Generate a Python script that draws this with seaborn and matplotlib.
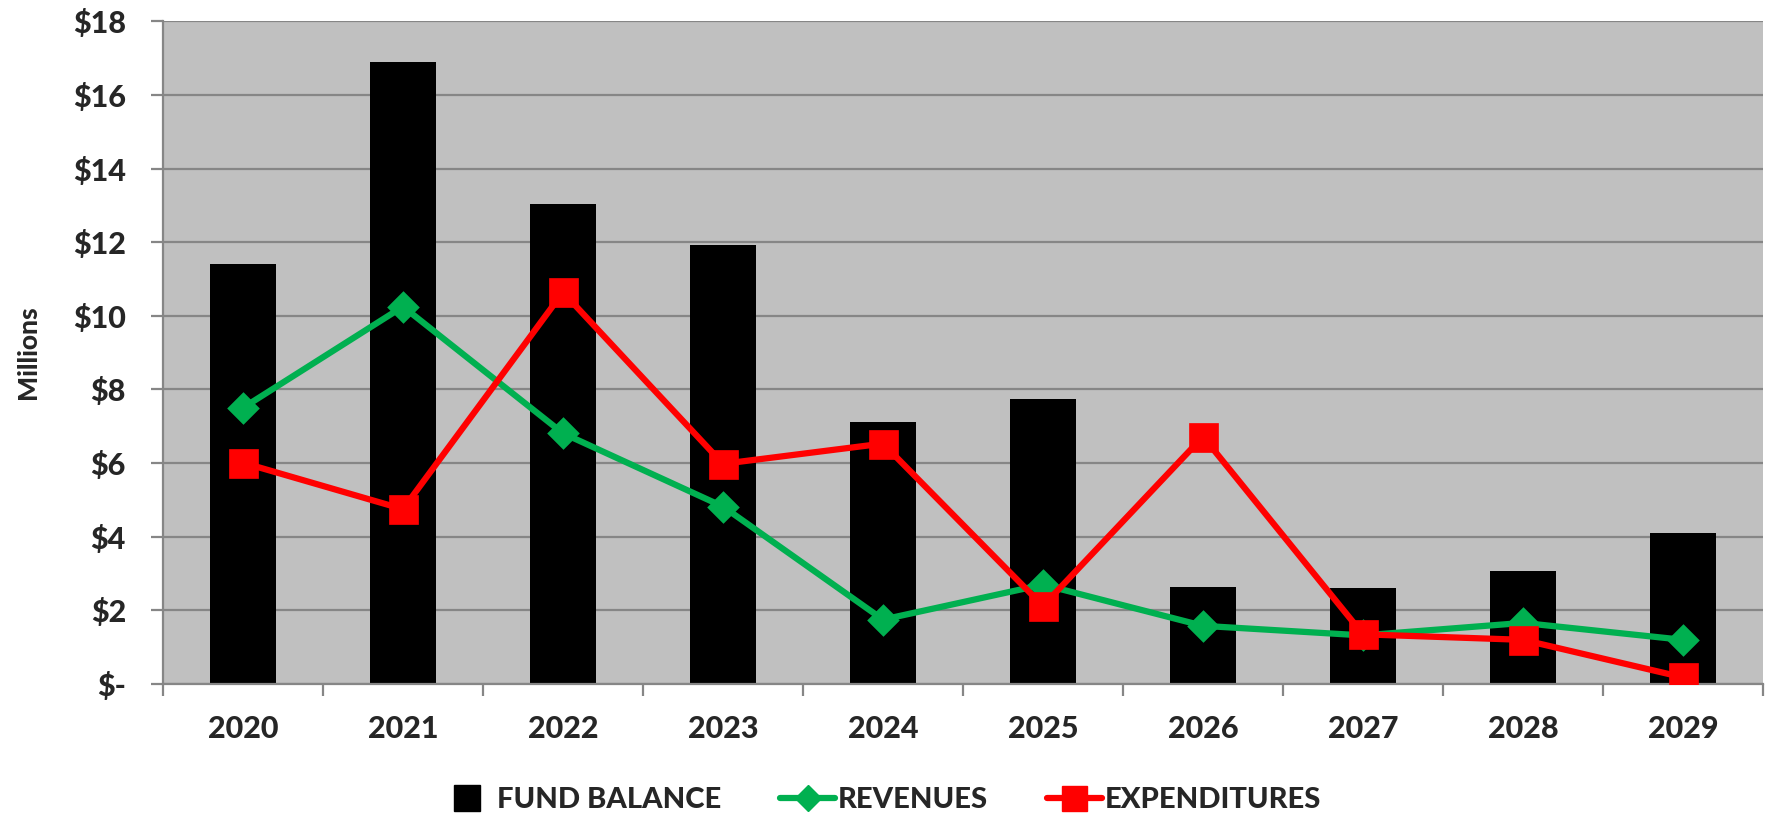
import numpy as np
import pandas as pd
import matplotlib
matplotlib.use("Agg")
import matplotlib.pyplot as plt
from matplotlib.lines import Line2D
from matplotlib.ticker import FuncFormatter, MultipleLocator, FixedLocator
import seaborn as sns

# данные (млн $)
years = ["2020", "2021", "2022", "2023", "2024", "2025", "2026", "2027", "2028", "2029"]
fund_balance = [11.41, 16.90, 13.04, 11.93, 7.12, 7.73, 2.64, 2.61, 3.07, 4.11]
revenues = [7.50, 10.25, 6.81, 4.82, 1.75, 2.70, 1.58, 1.32, 1.66, 1.20]
expenditures = [6.01, 4.75, 10.64, 5.98, 6.53, 2.12, 6.72, 1.35, 1.20, 0.18]

df = pd.DataFrame({"year": years, "fund": fund_balance,
                   "rev": revenues, "exp": expenditures})

sns.set_theme(style="white")
plt.rcParams['font.family'] = ['Lato', 'DejaVu Sans']
plt.rcParams['font.weight'] = 'black'

W = "black"  # насыщенность шрифта

fig = plt.figure(figsize=(17.71, 8.18), dpi=100)
ax = fig.add_axes([0.092, 0.1638, 0.9035, 0.8102])
ax.set_facecolor("#C0C0C0")

sns.barplot(data=df, x="year", y="fund", color="black", width=0.41,
            saturation=1, linewidth=0, edgecolor="black", ax=ax, zorder=2)
sns.pointplot(data=df, x="year", y="rev", color="#00B050", markers="D",
              markersize=13, linewidth=4.5, errorbar=None, ax=ax, zorder=3)
sns.pointplot(data=df, x="year", y="exp", color="#FF0000", markers="s",
              markersize=18, linewidth=4.5, errorbar=None, ax=ax, zorder=4)

ax.set_ylim(0, 18)
ax.set_xlim(-0.5, len(years) - 0.5)
ax.yaxis.set_major_locator(MultipleLocator(2))
ax.yaxis.set_major_formatter(FuncFormatter(
    lambda v, p: r"\$-" if v == 0 else r"\$%d" % v))
ax.grid(axis="y", color="#868686", linewidth=1.6, zorder=1)
ax.set_axisbelow(True)

for s in ["top", "right"]:
    ax.spines[s].set_visible(False)
for s in ["left", "bottom"]:
    ax.spines[s].set_color("#868686")
    ax.spines[s].set_linewidth(1.6)

ax.tick_params(axis="y", which="major", length=8.6, width=1.6, color="#868686",
               pad=18, labelsize=22, left=True)
ax.tick_params(axis="x", which="major", length=0, pad=22, labelsize=22)
ax.xaxis.set_minor_locator(FixedLocator(np.arange(-0.5, len(years), 1)))
ax.tick_params(axis="x", which="minor", length=8.6, width=1.6, color="#868686",
               bottom=True)
for lbl in ax.get_xticklabels() + ax.get_yticklabels():
    lbl.set_fontweight(W)

ax.set_xlabel("")
ax.set_ylabel("Millions", fontsize=19, fontweight=W)
ax.yaxis.set_label_coords(-0.077, 0.5)

# легенда внизу
handles = [
    Line2D([], [], color="black", marker="s", markersize=19, linestyle="none"),
    Line2D([], [], color="#00B050", marker="D", markersize=13, linewidth=4.5),
    Line2D([], [], color="#FF0000", marker="s", markersize=18, linewidth=4.5),
]
fig.legend(handles, ["FUND BALANCE", "REVENUES", "EXPENDITURES"],
           loc="center", bbox_to_anchor=(0.497, 0.022), ncol=3, frameon=False,
           prop={"size": 21, "weight": W}, handlelength=1.9,
           handletextpad=0.1, columnspacing=2.0)

fig.savefig("out.png", dpi=100)
